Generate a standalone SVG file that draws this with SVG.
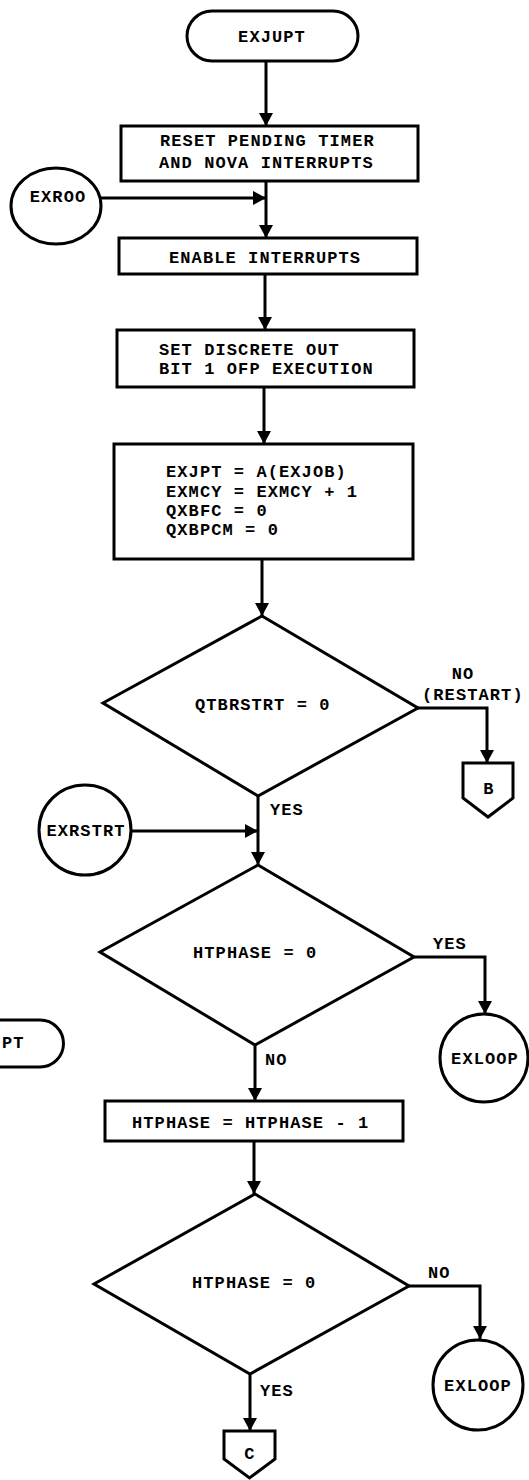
<svg xmlns="http://www.w3.org/2000/svg" width="529" height="1480" viewBox="0 0 529 1480">
<style>
.s{fill:#fff;stroke:#000;stroke-width:3}
.t{font-family:"Liberation Mono",monospace;font-weight:bold;font-size:17px;letter-spacing:1.1px;fill:#000}
.m{text-anchor:middle}
.c{fill:none;stroke:#000;stroke-width:3;marker-end:url(#ah)}
.p{fill:none;stroke:#000;stroke-width:3}
</style>
<defs>
<marker id="ah" markerWidth="14" markerHeight="14" refX="13" refY="7" orient="auto" markerUnits="userSpaceOnUse"><path d="M0,0 L13,7 L0,14 Z" fill="#000"/></marker>
</defs>
<rect width="529" height="1480" fill="#fff"/>
<g id="connectors">
<path class="c" d="M266,61 V126"/>
<path class="c" d="M266,181 V238"/>
<path class="c" d="M101,198 H266"/>
<path class="c" d="M265,274 V330"/>
<path class="c" d="M264,387 V444"/>
<path class="c" d="M262,559 V616"/>
<path class="c" d="M418,708 H487 V763"/>
<path class="c" d="M258,796 V865"/>
<path class="c" d="M131,831 H258"/>
<path class="c" d="M414,957 H485 V1014"/>
<path class="c" d="M255,1045 V1101"/>
<path class="c" d="M254,1141 V1194"/>
<path class="c" d="M409,1286 H480 V1339"/>
<path class="c" d="M250,1374 V1431"/>
</g>
<g id="start">
<rect class="s" x="187" y="11" width="171" height="50" rx="25" ry="25"/>
<text class="t m" x="272" y="42">EXJUPT</text>
</g>
<g id="reset">
<rect class="s" x="121" y="126" width="297" height="55"/>
<text class="t" x="160" y="146">RESET PENDING TIMER</text>
<text class="t" x="159" y="168">AND NOVA INTERRUPTS</text>
</g>
<g id="exroo">
<ellipse class="s" cx="56" cy="206" rx="45" ry="38"/>
<text class="t m" x="58" y="202">EXROO</text>
</g>
<g id="enable">
<rect class="s" x="119" y="238" width="298" height="36"/>
<text class="t" x="169" y="263">ENABLE INTERRUPTS</text>
</g>
<g id="discrete">
<rect class="s" x="117" y="330" width="297" height="57"/>
<text class="t" x="159" y="355">SET DISCRETE OUT</text>
<text class="t" x="159" y="374">BIT 1 OFP EXECUTION</text>
</g>
<g id="assign">
<rect class="s" x="114" y="444" width="299" height="115"/>
<text class="t" x="166" y="477">EXJPT = A(EXJOB)</text>
<text class="t" x="166" y="497">EXMCY = EXMCY + 1</text>
<text class="t" x="166" y="516">QXBFC = 0</text>
<text class="t" x="166" y="535">QXBPCM = 0</text>
</g>
<g id="qtbrstrt">
<path class="s" d="M262,616 L418,708 L258,796 L103,703 Z"/>
<text class="t" x="195" y="710">QTBRSTRT = 0</text>
<text class="t m" x="463" y="679">NO</text>
<text class="t" x="422" y="700">(RESTART)</text>
<text class="t" x="270" y="815">YES</text>
</g>
<g id="offpageB">
<path class="s" d="M463,763 H513 V798 L488,817 L463,798 Z"/>
<text class="t m" x="489" y="794">B</text>
</g>
<g id="exrstrt">
<ellipse class="s" cx="85" cy="830" rx="46" ry="45"/>
<text class="t m" x="86" y="836">EXRSTRT</text>
</g>
<g id="htphase1">
<path class="s" d="M258,865 L414,957 L255,1045 L100,952 Z"/>
<text class="t" x="193" y="958">HTPHASE = 0</text>
<text class="t" x="433" y="949">YES</text>
<text class="t" x="265" y="1065">NO</text>
</g>
<g id="exloop1">
<circle class="s" cx="484" cy="1058" r="44"/>
<text class="t m" x="485" y="1064">EXLOOP</text>
</g>
<g id="partialterm">
<path class="p" d="M0,1020 H40 A23.5,23.5 0 0 1 40,1067 H0"/>
<text class="t" x="2" y="1048">PT</text>
</g>
<g id="decrement">
<rect class="s" x="105" y="1101" width="298" height="40"/>
<text class="t" x="132" y="1128">HTPHASE = HTPHASE - 1</text>
</g>
<g id="htphase2">
<path class="s" d="M255,1194 L409,1286 L250,1374 L94,1284 Z"/>
<text class="t" x="192" y="1288">HTPHASE = 0</text>
<text class="t" x="428" y="1278">NO</text>
<text class="t" x="260" y="1396">YES</text>
</g>
<g id="exloop2">
<circle class="s" cx="478" cy="1385" r="45"/>
<text class="t m" x="478" y="1391">EXLOOP</text>
</g>
<g id="offpageC">
<path class="s" d="M224,1431 H275 V1459 L249.5,1478 L224,1459 Z"/>
<text class="t m" x="250" y="1459">C</text>
</g>
</svg>
